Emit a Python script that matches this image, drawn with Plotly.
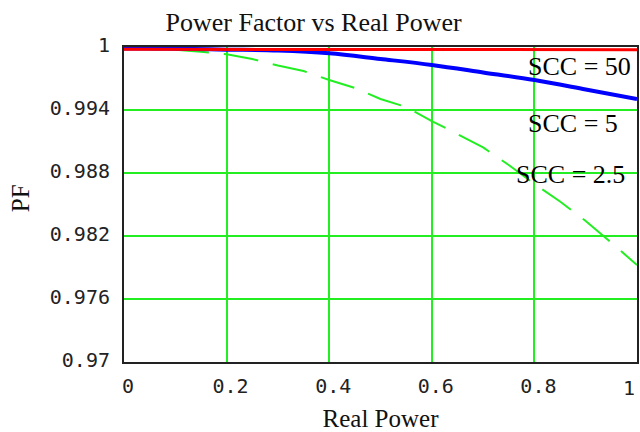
import plotly.graph_objects as go

# Real power (x) sample points
p_coarse = [0.0, 0.1, 0.2, 0.3, 0.4, 0.5, 0.6, 0.7, 0.8, 0.9, 1.0]
p_fine = [0.0, 0.05, 0.1, 0.15, 0.2, 0.25, 0.3, 0.35, 0.4, 0.45, 0.5,
          0.55, 0.6, 0.65, 0.7, 0.75, 0.8, 0.85, 0.9, 0.95, 1.0]

# Power factor readings
pf_scc50 = [0.99978, 0.99978, 0.99978, 0.99977, 0.99977, 0.99977,
            0.99977, 0.99976, 0.99976, 0.99976, 0.99975]
pf_scc5 = [0.99985, 0.99984, 0.99975, 0.99966, 0.99940, 0.99886,
           0.99829, 0.99758, 0.99685, 0.99596, 0.99505]
pf_scc25 = [0.99985, 0.99983, 0.99975, 0.99955, 0.99930, 0.99886, 0.99824,
            0.99771, 0.99686, 0.99610, 0.99505, 0.99429, 0.99295, 0.99171,
            0.99043, 0.98876, 0.98695, 0.98529, 0.98343, 0.98136, 0.97924]

x_ticks = [0, 0.2, 0.4, 0.6, 0.8, 1.0]
x_tick_text = ["0", "0.2", "0.4", "0.6", "0.8", "1"]
y_ticks = [0.97, 0.976, 0.982, 0.988, 0.994, 1.0]
y_tick_text = ["0.97", "0.976", "0.982", "0.988", "0.994", "1"]

labels = ["SCC = 50", "SCC = 5", "SCC = 2.5"]

fig = go.Figure()
fig.add_trace(go.Scatter(x=p_fine, y=pf_scc25, mode="lines",
                         line=dict(color="#22ee22", width=2, dash="35px,15px"),
                         showlegend=False))
fig.add_trace(go.Scatter(x=p_coarse, y=pf_scc5, mode="lines",
                         line=dict(color="#0000ff", width=4, shape="spline"),
                         showlegend=False))
fig.add_trace(go.Scatter(x=p_coarse, y=pf_scc50, mode="lines",
                         line=dict(color="#ff0000", width=3),
                         showlegend=False))

ann_font = dict(family="Liberation Serif", size=26, color="#000000")
fig.add_annotation(x=0.783, y=0.9981, text=labels[0], showarrow=False,
                   xanchor="left", yanchor="middle", font=ann_font)
fig.add_annotation(x=0.783, y=0.99275, text=labels[1], showarrow=False,
                   xanchor="left", yanchor="middle", font=ann_font)
fig.add_annotation(x=0.76, y=0.98785, text=labels[2], showarrow=False,
                   xanchor="left", yanchor="middle", font=ann_font)

# y-axis title placed as a rotated annotation
fig.add_annotation(xref="paper", yref="paper", x=-104 / 513, y=0.52,
                   text="PF", textangle=-90, showarrow=False,
                   xanchor="center", yanchor="middle",
                   font=dict(family="Liberation Serif", size=25, color="#111111"))

tick_font = dict(family="DejaVu Sans Mono", size=20, color="#222222")

# last x tick label drawn right-aligned so that it stays inside the page
shown_x_text = x_tick_text[:-1] + [""]
fig.add_annotation(x=x_ticks[-1], xref="x", yref="paper", y=0, yshift=-12,
                   text=x_tick_text[-1], showarrow=False, xanchor="right",
                   yanchor="top", font=tick_font)

fig.update_layout(
    width=640, height=432,
    margin=dict(l=124, r=3, t=47, b=70),
    paper_bgcolor="white", plot_bgcolor="white",
    title=dict(text="Power Factor vs Real Power", x=0.49, xanchor="center",
               y=0.95, yanchor="middle",
               font=dict(family="Liberation Serif", size=26, color="#111111")),
    xaxis=dict(range=[0, 1], tickvals=x_ticks, ticktext=shown_x_text,
               showgrid=True, gridcolor="#22ee22", gridwidth=2,
               showline=True, mirror=True, linecolor="#222222", linewidth=2,
               zeroline=False, ticks="", tickfont=tick_font, ticklabelshift=4,
               ticklabelstandoff=5, automargin=False,
               title=dict(text="Real Power",
                          font=dict(family="Liberation Serif", size=25, color="#111111"))),
    yaxis=dict(range=[0.97, 1.0], tickvals=y_ticks, ticktext=y_tick_text,
               showgrid=True, gridcolor="#22ee22", gridwidth=2,
               showline=True, mirror=True, linecolor="#222222", linewidth=2,
               zeroline=False, ticks="", tickfont=tick_font, automargin=False,
               ticklabelstandoff=8, ticklabelshift=-2),
)

fig.write_html("out.html", config={"displayModeBar": False},
               post_script="document.body.style.margin='0';document.body.style.padding='0';")
